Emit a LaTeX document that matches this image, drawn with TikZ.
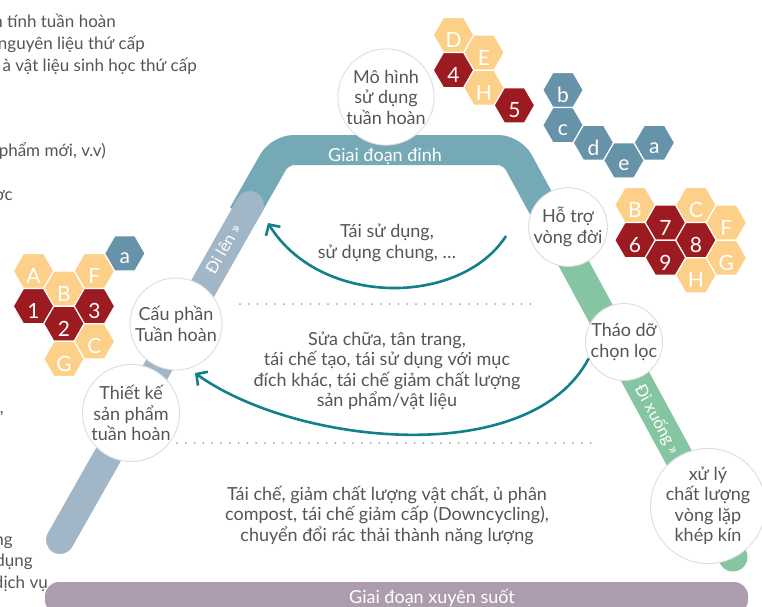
\documentclass[tikz,border=0pt]{standalone}
\usepackage{fontspec}
\setmainfont{Lato}
\usetikzlibrary{shapes.geometric,arrows.meta}

\definecolor{peakteal}{HTML}{74A9B5}
\definecolor{upgrey}{HTML}{A1B6C6}
\definecolor{downgreen}{HTML}{86C5A2}
\definecolor{acrossmauve}{HTML}{AD9CAE}
\definecolor{hexsand}{HTML}{FDD089}
\definecolor{hexwine}{HTML}{9B1B20}
\definecolor{hexblue}{HTML}{6692AA}
\definecolor{loopteal}{HTML}{11808C}
\definecolor{inkgrey}{HTML}{555555}
\definecolor{rimgrey}{HTML}{DDDDDD}
\definecolor{dotgrey}{HTML}{A0A0A0}

\tikzset{
  stage/.style={circle, fill=white, draw=rimgrey, line width=0.9pt, inner sep=0pt,
    text=inkgrey, align=center, font=\fontsize{18}{20.5}\selectfont},
  hexcell/.style={regular polygon, regular polygon sides=6, minimum size=40.6pt,
    inner sep=0pt, draw=white, line width=1.2pt},
  hexlabel/.style={text=white, font=\fontsize{21}{21}\selectfont, inner sep=0pt},
  bodytext/.style={text=inkgrey, align=center, font=\fontsize{18}{20.5}\selectfont},
  bandtext/.style={text=white, font=\fontsize{18}{18}\selectfont, inner sep=0pt},
  legtext/.style={text=white, font=\fontsize{16.5}{16.5}\selectfont, inner sep=0pt},
  cropped/.style={text=inkgrey, font=\fontsize{17}{17}\selectfont, inner sep=0pt, anchor=base east},
  separator/.style={draw=dotgrey, line width=2pt, line cap=round, dash pattern=on 0pt off 8.8pt},
  flow/.style={draw=loopteal, line width=2.6pt, -{Straight Barb[length=8pt,width=17pt]}},
}

% one hexagonal cell: name, cluster origin x, y, column, half-row, fill, label
\newcommand\hexcell[7]{%
  \node[hexcell, fill=#6] (#1) at ({#2+30.45*#4},{#3+17.58*#5}) {};
  \node[hexlabel] at ([yshift=-5pt]#1.center) {#7};}

\begin{document}
\begin{tikzpicture}[x=1pt, y=-1pt]
\useasboundingbox (0,0) rectangle (762,606);
\clip (0,0) rectangle (762,606);

% ---- the stage bands ----
\coordinate (peakL) at (280,150);
\coordinate (peakR) at (512,150);
\coordinate (upTop) at (250,205);
\coordinate (upFoot) at (60,540);
\coordinate (downTop) at (561,240);
\coordinate (downFoot) at (733,557);
\draw[peakteal, line width=30pt, rounded corners=14pt] (243,215) -- (peakL) -- (peakR) -- (downTop);
\draw[upgrey, line width=28pt, line cap=round] (upTop) -- (upFoot);
\draw[downgreen, line width=29pt, line cap=round] (downTop) -- (downFoot);
\node[fill=acrossmauve, rounded corners=14pt, minimum width=703pt, minimum height=32pt,
  inner sep=0pt] (across) at (396.5,598) {};

% ---- separators ----
\draw[separator] (240,304) -- (533,304);
\draw[separator] (177,443) -- (598,443);

% ---- stage circles ----
\node[stage, minimum size=92pt] (model) at (386,97) {Mô hình\\sử dụng\\tuần hoàn};
\node[stage, minimum size=77pt] (lifecycle) at (568,227) {Hỗ trợ\\vòng đời};
\node[stage, minimum size=77pt] (dismantle) at (624,342) {Tháo dỡ\\chọn lọc};
\node[stage, minimum size=100pt] (closedloop) at (708,506) {xử lý\\chất lượng\\vòng lặp\\khép kín};
\node[stage, minimum size=92pt] (component) at (176,324) {Cấu phần\\Tuần hoàn};
\node[stage, minimum size=97pt] (design) at (131,413) {Thiết kế\\sản phẩm\\tuần hoàn};

% ---- loops ----
\coordinate (reuseFrom) at (506,236);
\coordinate (reuseTo) at (268,223);
\coordinate (repairTo) at (195,373);
\draw[flow] (reuseFrom) .. controls (460,307) and (320,307) .. (reuseTo);
\draw[flow] (dismantle.205) .. controls (530,470) and (295,445) .. (repairTo);

% ---- band labels ----
\node[bandtext, anchor=base] (peaklabel) at (385,161) {Giai đoạn đỉnh};
\node[bandtext, anchor=base] (acrosslabel) at (432,603) {Giai đoạn xuyên suốt};
\node[legtext, rotate=60.3] (uplabel) at (223,249) {Đi lên »};
\node[legtext, rotate=-61.5] (downlabel) at (657,420) {Đi xuống »};

% ---- loop descriptions ----
\node[bodytext] (reuse) at (387,243) {Tái sử dụng,\\sử dụng chung, …};
\node[bodytext] (repair) at (387,371) {Sửa chữa, tân trang,\\tái chế tạo, tái sử dụng với mục\\đích khác, tái chế giảm chất lượng\\sản phẩm/vật liệu};
\node[bodytext] (recycle) at (387,515) {Tái chế, giảm chất lượng vật chất, ủ phân\\compost, tái chế giảm cấp (Downcycling),\\chuyển đổi rác thải thành năng lượng};

% ---- hexagon clusters ----
\hexcell{lA}{33.5}{271}{0}{0}{hexsand}{A}
\hexcell{lF}{33.5}{271}{2}{0}{hexsand}{F}
\hexcell{la}{33.5}{271}{3}{-1}{hexblue}{a}
\hexcell{lB}{33.5}{271}{1}{1}{hexsand}{B}
\hexcell{l1}{33.5}{271}{0}{2}{hexwine}{1}
\hexcell{l3}{33.5}{271}{2}{2}{hexwine}{3}
\hexcell{l2}{33.5}{271}{1}{3}{hexwine}{2}
\hexcell{lC}{33.5}{271}{2}{4}{hexsand}{C}
\hexcell{lG}{33.5}{271}{1}{5}{hexsand}{G}

\hexcell{tD}{453.5}{35}{0}{0}{hexsand}{D}
\hexcell{tE}{453.5}{35}{1}{1}{hexsand}{E}
\hexcell{t4}{453.5}{35}{0}{2}{hexwine}{4}
\hexcell{tH}{453.5}{35}{1}{3}{hexsand}{H}
\hexcell{t5}{453.5}{35}{2}{4}{hexwine}{5}

\hexcell{bb}{563}{90}{0}{0}{hexblue}{b}
\hexcell{bc}{563}{90}{0}{2}{hexblue}{c}
\hexcell{bd}{563}{90}{1}{3}{hexblue}{d}
\hexcell{be}{563}{90}{2}{4}{hexblue}{e}
\hexcell{ba}{563}{90}{3}{3}{hexblue}{a}

\hexcell{rB}{635}{205}{0}{0}{hexsand}{B}
\hexcell{r7}{635}{205}{1}{1}{hexwine}{7}
\hexcell{rC}{635}{205}{2}{0}{hexsand}{C}
\hexcell{rF}{635}{205}{3}{1}{hexsand}{F}
\hexcell{r6}{635}{205}{0}{2}{hexwine}{6}
\hexcell{r8}{635}{205}{2}{2}{hexwine}{8}
\hexcell{r9}{635}{205}{1}{3}{hexwine}{9}
\hexcell{rG}{635}{205}{3}{3}{hexsand}{G}
\hexcell{rH}{635}{205}{2}{4}{hexsand}{H}

% ---- text running in from the left margin ----
\node[cropped] (c1) at (116,27) {n tính tuần hoàn};
\node[cropped] (c2) at (145,49) {nguyên liệu thứ cấp};
\node[cropped] (c3) at (197,71) {à vật liệu sinh học thứ cấp};
\node[cropped] (c4) at (106,156) {phẩm mới, v.v)};
\node[cropped] (c5) at (13,200) {ợc};
\node[cropped] (c6) at (4,413) {,};
\node[cropped] (c7) at (13,545) {ng};
\node[cropped] (c8) at (33,566) {dụng};
\node[cropped] (c9) at (48,588) {dịch vụ};
\end{tikzpicture}
\end{document}
